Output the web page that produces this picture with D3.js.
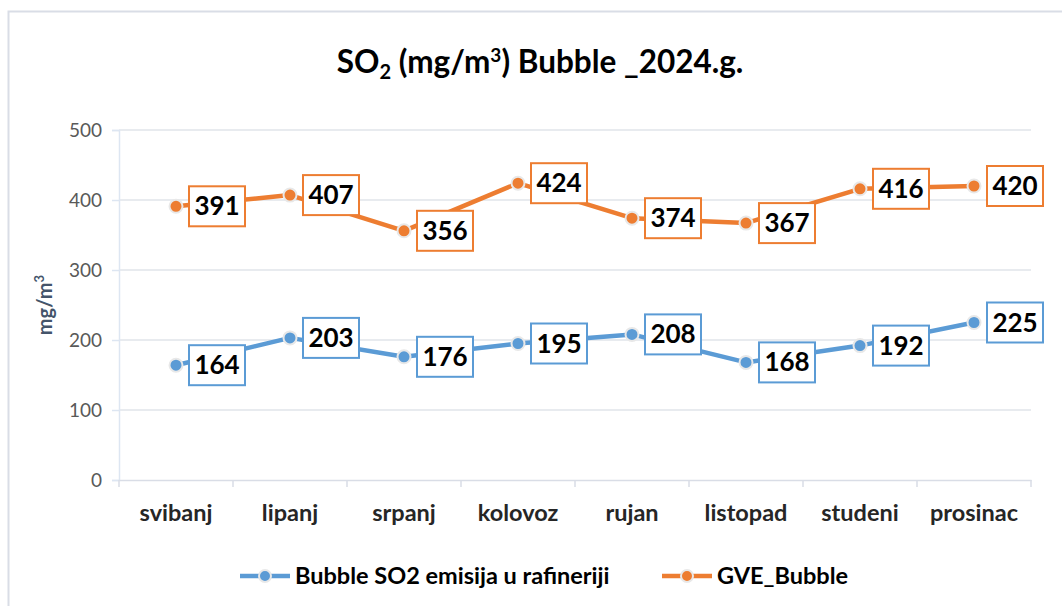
<!DOCTYPE html>
<html>
<head>
<meta charset="utf-8">
<script src="https://cdn.jsdelivr.net/npm/d3@7"></script>
<style>
  body { margin: 0; background: #fff; }
  svg { display: block; font-family: Lato, "Open Sans", sans-serif; }
</style>
</head>
<body>
<svg id="chart"></svg>
<script>
/* data */
let months = ["svibanj", "lipanj", "srpanj", "kolovoz", "rujan", "listopad", "studeni", "prosinac"];
let bubbleSO2 = [164, 203, 176, 195, 208, 168, 192, 225];
let gveBubble = [391, 407, 356, 424, 374, 367, 416, 420];
let yTicks = [0, 100, 200, 300, 400, 500];
let seriesNames = ["Bubble SO2 emisija u rafineriji", "GVE_Bubble"];
let seriesColors = ["#5b9bd5", "#ed7d31"];

let width = 1062;
let height = 606;
let plotLeft = 119, plotRight = 1031, plotTop = 130, plotBottom = 480;

const svg = d3.select("#chart").attr("width", width).attr("height", height);

// outer frame of the chart area
svg.append("rect")
  .attr("x", 8.5).attr("y", 11.5)
  .attr("width", width + 20).attr("height", height + 20)
  .attr("fill", "#fff").attr("stroke", "#d9dde6").attr("stroke-width", 2);

const xScale = d3.scaleBand().domain(months).range([plotLeft, plotRight]);
const yScale = d3.scaleLinear().domain([0, 500]).range([plotBottom, plotTop]);

// grid lines
svg.append("g").selectAll("line").data(yTicks.filter(d => d > 0)).enter().append("line")
  .attr("x1", plotLeft).attr("x2", plotRight)
  .attr("y1", d => yScale(d)).attr("y2", d => yScale(d))
  .attr("stroke", "#e1e4ea").attr("stroke-width", 1.5);

// y axis
const yAxis = d3.axisLeft(yScale).tickValues(yTicks).tickSize(7).tickPadding(10);
const gy = svg.append("g").attr("transform", "translate(" + plotLeft + ",0)").call(yAxis);
gy.select(".domain").attr("stroke", "#dde6f2").attr("stroke-width", 1.5);
gy.selectAll(".tick line").attr("stroke", "#dde6f2").attr("stroke-width", 1.5);
gy.selectAll("text").attr("font-size", 19).attr("fill", "#595959")
  .attr("font-family", "Lato, sans-serif");

// x axis
const xAxis = d3.axisBottom(xScale).tickSize(0).tickPadding(24);
const gx = svg.append("g").attr("transform", "translate(0," + plotBottom + ")").call(xAxis);
gx.select(".domain").attr("stroke", "#d9dde6").attr("stroke-width", 1.5);
gx.selectAll("text").attr("font-size", 23.5).attr("font-weight", "bold").attr("fill", "#262626")
  .attr("font-family", "Lato, sans-serif");
// boundary ticks between categories
gx.append("g").selectAll("line").data(months.concat(["end"])).enter().append("line")
  .attr("x1", (d, i) => plotLeft + i * xScale.step())
  .attr("x2", (d, i) => plotLeft + i * xScale.step())
  .attr("y1", 0).attr("y2", 7)
  .attr("stroke", "#d9dde6").attr("stroke-width", 1.5);

// title
const title = svg.append("text").attr("x", 540).attr("y", 73)
  .attr("text-anchor", "middle").attr("font-size", 31.5).attr("font-weight", "bold").attr("fill", "#000");
title.append("tspan").text("SO");
title.append("tspan").text("2").attr("font-size", 20).attr("dy", 6);
title.append("tspan").text(" (mg/m").attr("dy", -6);
title.append("tspan").text("3").attr("font-size", 19).attr("dy", -11);
title.append("tspan").text(") Bubble _2024.g.").attr("dy", 11);

// y axis title
const yt = svg.append("text").attr("transform", "translate(52,305) rotate(-90)")
  .attr("text-anchor", "middle").attr("font-size", 20).attr("font-weight", "bold").attr("fill", "#44546a");
yt.append("tspan").text("mg/m");
yt.append("tspan").text("3").attr("font-size", 13).attr("dy", -8);

// series
const line = d3.line().x((d, i) => xScale(months[i]) + xScale.bandwidth() / 2).y(d => yScale(d));
const allSeries = [bubbleSO2, gveBubble];

allSeries.forEach((vals, s) => {
  svg.append("path").datum(vals)
    .attr("d", line).attr("fill", "none")
    .attr("stroke", seriesColors[s]).attr("stroke-width", 4.5).attr("stroke-linejoin", "round");
});

allSeries.forEach((vals, s) => {
  const g = svg.append("g");
  g.selectAll("circle").data(vals).enter().append("circle")
    .attr("cx", (d, i) => xScale(months[i]) + xScale.bandwidth() / 2)
    .attr("cy", d => yScale(d))
    .attr("r", 6.5)
    .attr("fill", seriesColors[s])
    .attr("stroke", "#e8e8e8").attr("stroke-width", 2);

  const lab = g.selectAll("g.lab").data(vals).enter().append("g")
    .attr("transform", (d, i) => "translate(" + (xScale(months[i]) + xScale.bandwidth() / 2 + 13) + "," + yScale(d) + ")");
  lab.append("rect")
    .attr("x", 0).attr("y", -20).attr("width", 56).attr("height", 40)
    .attr("fill", "#fff").attr("stroke", seriesColors[s]).attr("stroke-width", 2);
  lab.append("text").text(d => d)
    .attr("x", 28).attr("y", 9).attr("text-anchor", "middle")
    .attr("font-size", 26).attr("font-weight", "bold").attr("fill", "#000");
});

// legend
const legendX = [240, 662];
seriesNames.forEach((name, s) => {
  const lg = svg.append("g").attr("transform", "translate(" + legendX[s] + ",576)");
  lg.append("line").attr("x1", 0).attr("x2", 50).attr("y1", 0).attr("y2", 0)
    .attr("stroke", seriesColors[s]).attr("stroke-width", 4.5);
  lg.append("circle").attr("cx", 25).attr("cy", 0).attr("r", 6)
    .attr("fill", seriesColors[s]).attr("stroke", "#e8e8e8").attr("stroke-width", 2);
  lg.append("text").text(name).attr("x", 55).attr("y", 8)
    .attr("font-size", 23.5).attr("font-weight", "bold").attr("fill", "#000");
});
</script>
</body>
</html>
